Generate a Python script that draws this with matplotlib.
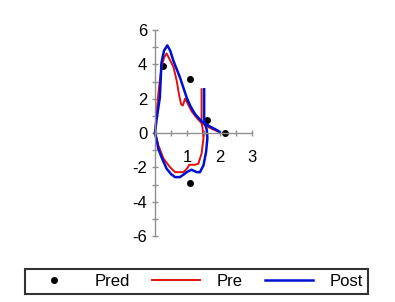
import numpy as np
import matplotlib
matplotlib.use('Agg')
import matplotlib.pyplot as plt

plt.rcParams['font.family'] = ['Liberation Sans Narrow', 'Liberation Sans', 'DejaVu Sans']
plt.rcParams['axes.unicode_minus'] = False

# predicted values (volume, flow)
pred_vol = [0.26, 1.08, 1.6, 2.17, 1.08]
pred_flow = [3.88, 3.15, 0.78, 0.0, -2.9]

# pre - expiratory / inspiratory limbs
pre_exp_vol = [0, 0.05, 0.12, 0.2, 0.28, 0.36, 0.45, 0.57, 0.67, 0.75, 0.81, 0.86, 0.93, 1.0, 1.13, 1.29, 1.44, 1.6, 1.75, 1.93]
pre_exp_flow = [0, 1.2, 2.6, 3.8, 4.4, 4.63, 4.3, 3.85, 3.05, 2.16, 1.67, 1.6, 2.0, 1.76, 1.27, 0.88, 0.58, 0.4, 0.25, 0.1]
pre_insp_vol = [0, 0.05, 0.1, 0.26, 0.46, 0.62, 0.88, 1.0, 1.06, 1.24, 1.34, 1.44, 1.5, 1.47, 1.44, 1.44]
pre_insp_flow = [0, -0.3, -0.7, -1.48, -1.98, -2.28, -2.28, -2.05, -1.85, -1.85, -1.79, -1.2, -0.3, 0.3, 0.6, 2.55]

# post - expiratory / inspiratory limbs
post_exp_vol = [0, 0.05, 0.15, 0.2, 0.28, 0.38, 0.47, 0.57, 0.77, 0.98, 1.1, 1.24, 1.44, 1.7, 1.93, 2.0]
post_exp_flow = [0, 0.8, 2.06, 4.1, 4.8, 5.1, 4.8, 4.2, 3.25, 2.06, 1.55, 1.1, 0.68, 0.38, 0.15, 0.05]
post_insp_vol = [0, 0.05, 0.1, 0.2, 0.36, 0.5, 0.62, 0.77, 0.9, 0.98, 1.13, 1.29, 1.39, 1.5, 1.58, 1.62, 1.6, 1.55, 1.52, 1.52]
post_insp_flow = [0, -0.4, -0.9, -1.4, -2.08, -2.4, -2.57, -2.57, -2.4, -2.28, -2.14, -2.28, -2.28, -1.88, -1.1, -0.3, 0.2, 0.5, 0.8, 2.55]

x_ticks = [0, 0.5, 1, 1.5, 2, 2.5, 3]
x_labels = ['', '', '1', '', '2', '', '3']
y_ticks = [-6, -5, -4, -3, -2, -1, 0, 1, 2, 3, 4, 5, 6]
y_labels = ['-6', '', '-4', '', '-2', '', '0', '', '2', '', '4', '', '6']

fig = plt.figure(figsize=(3.95, 3.02), dpi=100)
ax = fig.add_axes([155 / 395, 66 / 302, 97 / 395, 206 / 302])

ax.plot(pred_vol, pred_flow, 'o', color='black', markersize=4, label='Pred', clip_on=False)
ax.plot(pre_exp_vol, pre_exp_flow, color='#e01010', lw=1.4, label='Pre', clip_on=False)
ax.plot(pre_insp_vol, pre_insp_flow, color='#e01010', lw=1.4, clip_on=False)
ax.plot(post_exp_vol, post_exp_flow, color='#0010d0', lw=1.8, label='Post', clip_on=False)
ax.plot(post_insp_vol, post_insp_flow, color='#0010d0', lw=1.8, clip_on=False)

ax.set_xlim(0, 3)
ax.set_ylim(-6, 6)
ax.spines['left'].set_position(('data', 0))
ax.spines['bottom'].set_position(('data', 0))
ax.spines['right'].set_visible(False)
ax.spines['top'].set_visible(False)
for s in ['left', 'bottom']:
    ax.spines[s].set_color('#909090')
    ax.spines[s].set_linewidth(1.0)

ax.set_xticks(x_ticks)
ax.set_xticklabels(x_labels)
ax.set_yticks(y_ticks)
ax.set_yticklabels(y_labels)
ax.tick_params(axis='both', colors='#909090', labelcolor='black', labelsize=12,
               direction='inout', length=5, width=1)
ax.tick_params(axis='x', pad=10)
ax.tick_params(axis='y', pad=3)

fig.legend(loc='lower left', bbox_to_anchor=(25 / 395, 8 / 302, 343 / 395, 27 / 302),
           ncol=3, mode='expand', fontsize=12, frameon=True, fancybox=False,
           edgecolor='black', handlelength=2.9, handletextpad=1.0,
           borderaxespad=0, borderpad=0.3).get_frame().set_linewidth(1.5)

plt.savefig('out.png', dpi=100)
